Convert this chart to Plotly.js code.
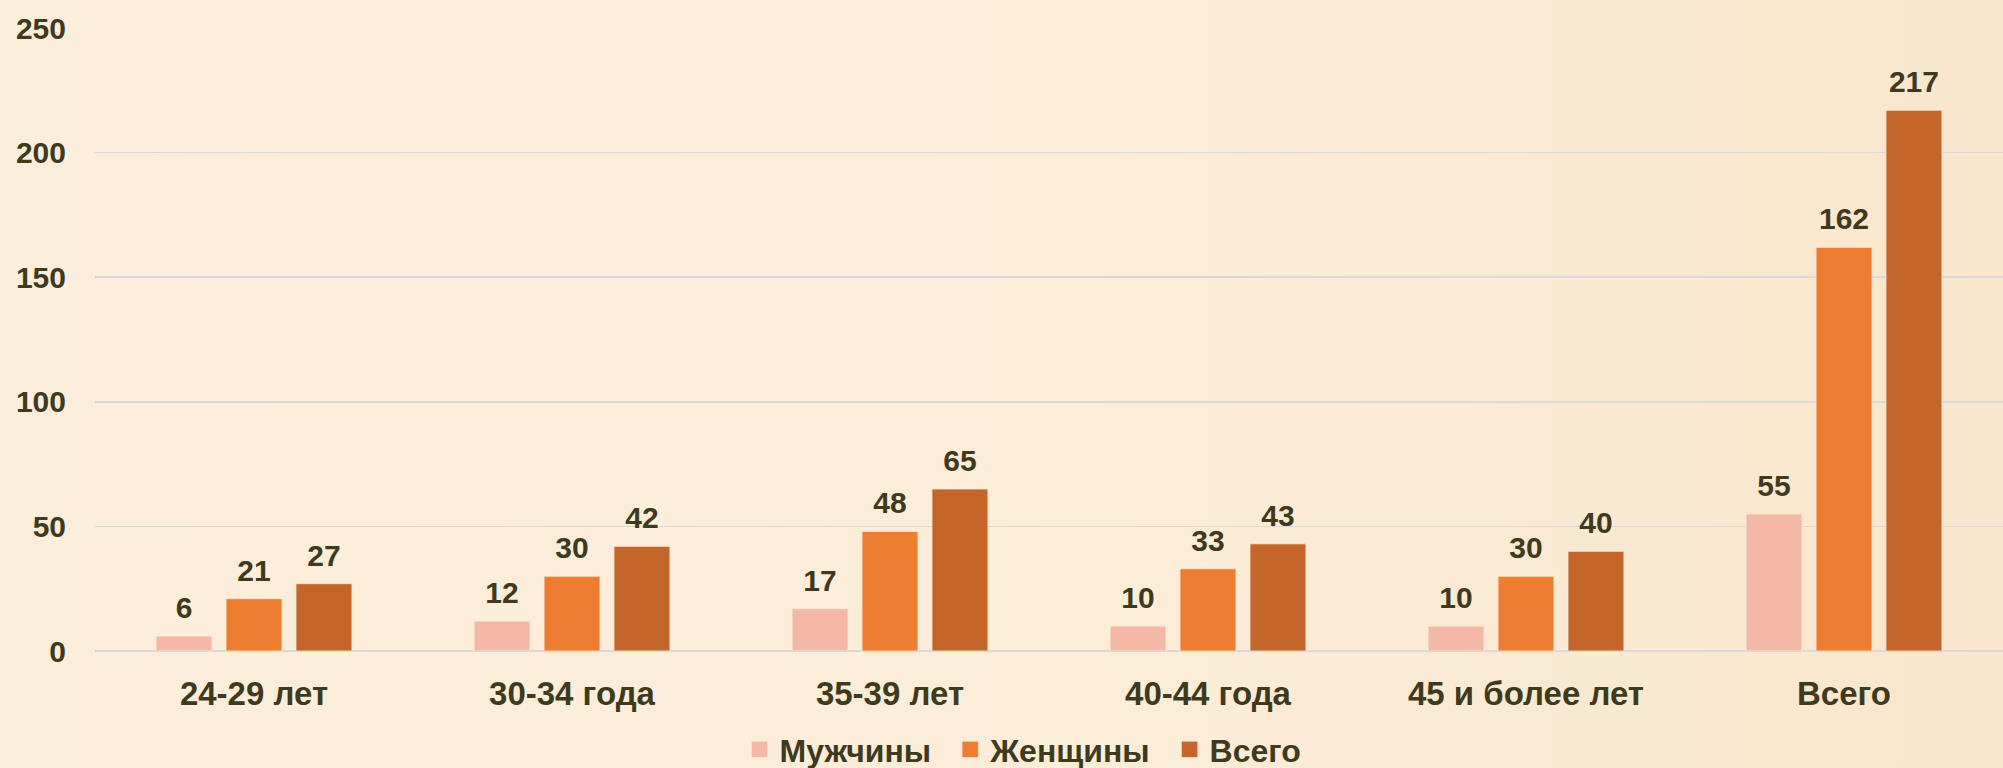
<!DOCTYPE html>
<html>
<head>
<meta charset="utf-8">
<script src="https://cdn.plot.ly/plotly-3.0.1.min.js"></script>
<style>
  html, body { margin: 0; padding: 0; }
  body {
    width: 2003px; height: 768px; overflow: hidden;
    background: linear-gradient(90deg, #FCEEDC 0%, #FCEDD9 55%, #F9E6CC 100%);
  }
  #chart { width: 2003px; height: 768px; }
</style>
</head>
<body>
<div id="chart"></div>
<script>
const categories = ["24-29 лет", "30-34 года", "35-39 лет", "40-44 года", "45 и более лет", "Всего"];
const men = [6, 12, 17, 10, 10, 55];
const women = [21, 30, 48, 33, 30, 162];
const total = [27, 42, 65, 43, 40, 217];
const seriesNames = ["Мужчины", "Женщины", "Всего"];
const yTicks = [0, 50, 100, 150, 200, 250];

const textColor = "#3E3A1E";
const fontFamily = "Liberation Sans, Arial, sans-serif";
const colors = ["#F4B8A6", "#ED7D31", "#C4652A"];

function barTrace(name, values, color) {
  return {
    type: "bar",
    name: name,
    x: categories,
    y: values,
    marker: { color: color, line: { color: "rgba(255,235,215,0.8)", width: 1 } },
    text: values.map(String),
    textposition: "outside",
    cliponaxis: false,
    textfont: { family: fontFamily, size: 30, color: textColor, weight: 700 },
    hoverinfo: "x+y+name"
  };
}

const data = [
  barTrace(seriesNames[0], men, colors[0]),
  barTrace(seriesNames[1], women, colors[1]),
  barTrace(seriesNames[2], total, colors[2])
];

const layout = {
  width: 2003,
  height: 768,
  paper_bgcolor: "rgba(0,0,0,0)",
  plot_bgcolor: "rgba(0,0,0,0)",
  margin: { l: 95, r: 0, t: 28, b: 117, pad: 0, autoexpand: false },
  barmode: "group",
  bargap: 0.34,
  bargroupgap: 0.2,
  font: { family: fontFamily, color: textColor, size: 30, weight: 700 },
  showlegend: true,
  legend: {
    orientation: "h",
    xref: "paper", x: 0.4864, xanchor: "center",
    yref: "container", y: 0.024, yanchor: "middle",
    font: { family: fontFamily, size: 32, color: textColor, weight: 700 },
    bgcolor: "rgba(0,0,0,0)",
    itemwidth: 30
  },
  xaxis: {
    type: "category",
    showgrid: false,
    showline: false,
    zeroline: false,
    ticks: "",
    automargin: false,
    ticklabelstandoff: 20,
    tickfont: { family: fontFamily, size: 33, color: textColor, weight: 700 }
  },
  yaxis: {
    range: [0, 250],
    tickvals: yTicks,
    showgrid: true,
    gridcolor: "#D8D9DC",
    gridwidth: 1.5,
    zeroline: true,
    zerolinecolor: "#D8D9DC",
    zerolinewidth: 2,
    showline: false,
    ticks: "",
    automargin: false,
    ticklabelstandoff: 28,
    tickfont: { family: fontFamily, size: 30, color: textColor, weight: 700 }
  }
};

Plotly.newPlot("chart", data, layout, { displayModeBar: false, staticPlot: true }).then(function (gd) {
  // lift value labels a little higher above the bars
  gd.querySelectorAll("text.bartext").forEach(function (t) {
    const tr = t.getAttribute("transform") || "";
    t.setAttribute("transform", "translate(0,-9) " + tr);
  });
  // larger legend swatches
  gd.querySelectorAll(".legend .legendpoints path").forEach(function (p) {
    const tr = p.getAttribute("transform") || "";
    p.setAttribute("transform", tr + " scale(1.4)");
  });
  // wider spacing between legend entries, kept centred
  const items = gd.querySelectorAll(".legend .traces");
  const delta = 14;
  const n = items.length;
  items.forEach(function (g, i) {
    const tr = g.getAttribute("transform") || "";
    const shift = (i - (n - 1) / 2) * delta;
    g.setAttribute("transform", "translate(" + shift + ",0) " + tr);
  });
  // avoid clipping of the shifted legend entries
  gd.querySelectorAll(".legend").forEach(function (lg) {
    lg.querySelectorAll("[clip-path]").forEach(function (el) { el.removeAttribute("clip-path"); });
  });
});
</script>
</body>
</html>
